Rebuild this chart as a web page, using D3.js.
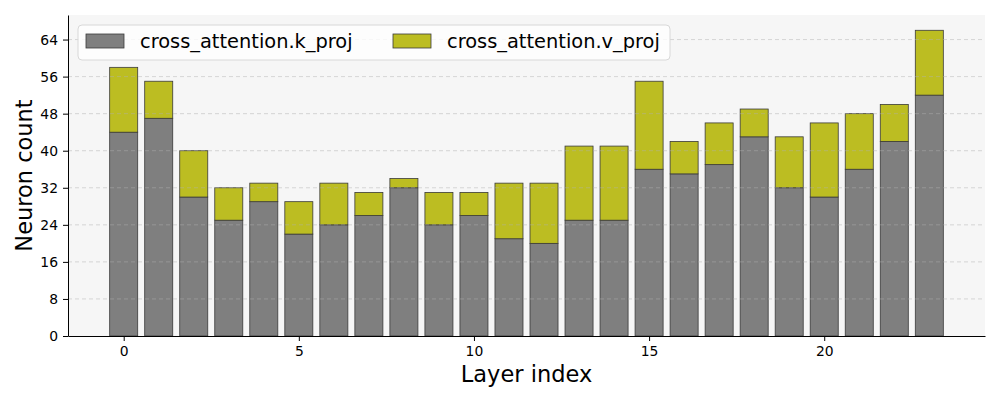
<!DOCTYPE html>
<html>
<head>
<meta charset="utf-8">
<script src="https://cdn.jsdelivr.net/npm/d3@7"></script>
<style>
  body { margin: 0; background: #fff; }
  text { font-family: "DejaVu Sans", sans-serif; }
</style>
</head>
<body>
<div id="chart"></div>
<script>
// values
const layers = d3.range(24);
const kProj = [44, 47, 30, 25, 29, 22, 24, 26, 32, 24, 26, 21, 20, 25, 25, 36, 35, 37, 43, 32, 30, 36, 42, 52];
const vProj = [14, 8, 10, 7, 4, 7, 9, 5, 2, 7, 5, 12, 13, 16, 16, 19, 7, 9, 6, 11, 16, 12, 8, 14];
const seriesNames = ["cross_attention.k_proj", "cross_attention.v_proj"];
const seriesColors = ["#7f7f7f", "#bcbd22"];
const yTicks = [0, 8, 16, 24, 32, 40, 48, 56, 64];
const xTicks = [0, 5, 10, 15, 20];

const width = 1000, height = 400;
const margin = {top: 15, right: 15, bottom: 64, left: 68};

const svg = d3.select("#chart").append("svg")
    .attr("width", width)
    .attr("height", height);

const x = d3.scaleLinear()
    .domain([-1.59, 24.59])
    .range([margin.left, width - margin.right]);

const totals = kProj.map((k, i) => k + vProj[i]);
const y = d3.scaleLinear()
    .domain([0, d3.max(totals) * 1.05])
    .range([height - margin.bottom, margin.top]);

// plot background
svg.append("rect")
    .attr("x", margin.left)
    .attr("y", margin.top)
    .attr("width", width - margin.left - margin.right)
    .attr("height", height - margin.top - margin.bottom)
    .attr("fill", "#f6f6f6");

const barW = x(0.8) - x(0);

// stacked bars
const stacks = [kProj.map((v, i) => [0, v]), vProj.map((v, i) => [kProj[i], kProj[i] + v])];
stacks.forEach((s, si) => {
  svg.append("g")
    .selectAll("rect")
    .data(s)
    .join("rect")
      .attr("x", (d, i) => x(layers[i]) - barW / 2)
      .attr("y", d => y(d[1]))
      .attr("width", barW)
      .attr("height", d => y(d[0]) - y(d[1]))
      .attr("fill", seriesColors[si])
      .attr("stroke", "#3a3a3a")
      .attr("stroke-width", 0.8);
});

// grid on top of bars
svg.append("g")
  .selectAll("line")
  .data(yTicks.filter(t => t > 0))
  .join("line")
    .attr("x1", margin.left)
    .attr("x2", width - margin.right)
    .attr("y1", d => y(d))
    .attr("y2", d => y(d))
    .attr("stroke", "#b0b0b0")
    .attr("stroke-opacity", 0.6)
    .attr("stroke-width", 0.8)
    .attr("stroke-dasharray", "4,3");

// axes
const xAxis = svg.append("g")
    .attr("transform", `translate(0,${height - margin.bottom})`)
    .call(d3.axisBottom(x).tickValues(xTicks).tickFormat(d3.format("d")).tickSize(5).tickPadding(5).tickSizeOuter(0));
const yAxis = svg.append("g")
    .attr("transform", `translate(${margin.left},0)`)
    .call(d3.axisLeft(y).tickValues(yTicks).tickSize(5).tickPadding(5).tickSizeOuter(0));

[xAxis, yAxis].forEach(a => {
  a.attr("font-size", null).attr("font-family", null);
  a.selectAll("text").style("font-size", "13.9px").attr("fill", "#000");
  a.select(".domain").attr("stroke", "#000").attr("stroke-width", 1);
  a.selectAll(".tick line").attr("stroke", "#000");
});

svg.append("text")
    .attr("x", (margin.left + width - margin.right) / 2)
    .attr("y", 382)
    .attr("text-anchor", "middle")
    .style("font-size", "22.5px")
    .text("Layer index");

svg.append("text")
    .attr("transform", `translate(32,${(margin.top + height - margin.bottom) / 2}) rotate(-90)`)
    .attr("text-anchor", "middle")
    .style("font-size", "22.5px")
    .text("Neuron count");

// legend
const legend = svg.append("g").attr("transform", "translate(78,25)");
legend.append("rect")
    .attr("width", 592)
    .attr("height", 35)
    .attr("rx", 4)
    .attr("fill", "#fff")
    .attr("fill-opacity", 0.8)
    .attr("stroke", "#d8d8d8");
const legendX = [8, 315];
seriesNames.forEach((name, i) => {
  const g = legend.append("g").attr("transform", `translate(${legendX[i]},9)`);
  g.append("rect")
      .attr("width", 38)
      .attr("height", 14)
      .attr("fill", seriesColors[i])
      .attr("stroke", "#3a3a3a")
      .attr("stroke-width", 0.8);
  g.append("text")
      .attr("x", 54)
      .attr("y", 7)
      .attr("dy", "0.35em")
      .style("font-size", "19.4px")
      .text(name);
});
</script>
</body>
</html>
